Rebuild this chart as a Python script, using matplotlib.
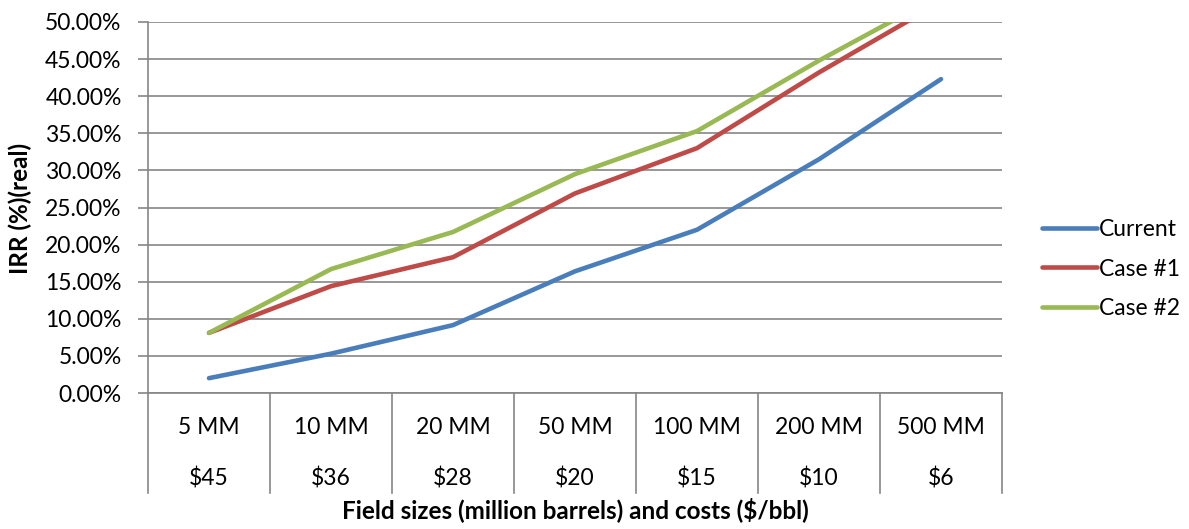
import matplotlib.pyplot as plt
from matplotlib.ticker import FuncFormatter
import matplotlib.transforms as mtransforms

plt.rcParams["font.family"] = ["Lato", "DejaVu Sans"]

sizes = ["5 MM", "10 MM", "20 MM", "50 MM", "100 MM", "200 MM", "500 MM"]
costs = ["$45", "$36", "$28", "$20", "$15", "$10", "$6"]

current = [0.020, 0.053, 0.0915, 0.164, 0.220, 0.315, 0.423]
case1 = [0.081, 0.144, 0.183, 0.269, 0.330, 0.432, 0.527]
case2 = [0.081, 0.167, 0.217, 0.295, 0.353, 0.448, 0.537]

series = [("Current", current, "#4A7EBB"),
          ("Case #1", case1, "#BE4B48"),
          ("Case #2", case2, "#98B954")]

W, H = 1189, 529
fs = 16.5
fig = plt.figure(figsize=(W / 100, H / 100), dpi=100)
# plot area in pixels: left 148, right 1002, top 22, bottom 393
ax = fig.add_axes([148 / W, 1 - 393 / H, (1002 - 148) / W, (393 - 22) / H])

x = list(range(len(sizes)))
for name, vals, col in series:
    ax.plot(x, vals, color=col, lw=3.3, label=name, solid_capstyle="round",
            solid_joinstyle="round")

grey = "#868686"
ax.set_xlim(-0.5, len(sizes) - 0.5)
ax.set_ylim(0, 0.5)
ax.set_yticks([i * 0.05 for i in range(11)])
ax.yaxis.set_major_formatter(FuncFormatter(lambda v, p: f"{v * 100:.2f}%"))
ax.grid(True, axis="y", color=grey, lw=1.2)
ax.set_axisbelow(True)
for s in ["top", "right"]:
    ax.spines[s].set_visible(False)
for s in ["left", "bottom"]:
    ax.spines[s].set_color(grey)
    ax.spines[s].set_linewidth(1.2)
ax.tick_params(axis="y", length=7, width=1.2, color=grey, labelsize=fs,
               pad=12, labelcolor="black")
ax.set_xticks([])

# multi-level category axis
trans = mtransforms.blended_transform_factory(ax.transData, ax.transAxes)
ax_h = 393 - 22
bottom = -(493 - 393) / ax_h
for b in [i - 0.5 for i in range(len(sizes) + 1)]:
    ax.plot([b, b], [0, bottom], color=grey, lw=1.2, transform=trans,
            clip_on=False)
for i in x:
    ax.text(i, -(427 - 393) / ax_h, sizes[i], transform=trans, ha="center",
            va="center", fontsize=fs)
    ax.text(i, -(479 - 393) / ax_h, costs[i], transform=trans, ha="center",
            va="center", fontsize=fs)

fig.text((148 + 1002) / 2 / W, 1 - 510 / H,
         "Field sizes (million barrels) and costs ($/bbl)",
         ha="center", va="center", fontsize=17.5, fontweight="bold")
fig.text(20 / W, 1 - 208 / H, "IRR (%)(real)", rotation=90, ha="center",
         va="center", fontsize=17.5, fontweight="bold")

leg = fig.legend(loc="center left", bbox_to_anchor=(1042 / W, 1 - 269 / H),
                 frameon=False, fontsize=fs, handlelength=2.4,
                 handletextpad=0.1, labelspacing=0.8, borderpad=0,
                 borderaxespad=0)

fig.savefig("out.png", dpi=100)
